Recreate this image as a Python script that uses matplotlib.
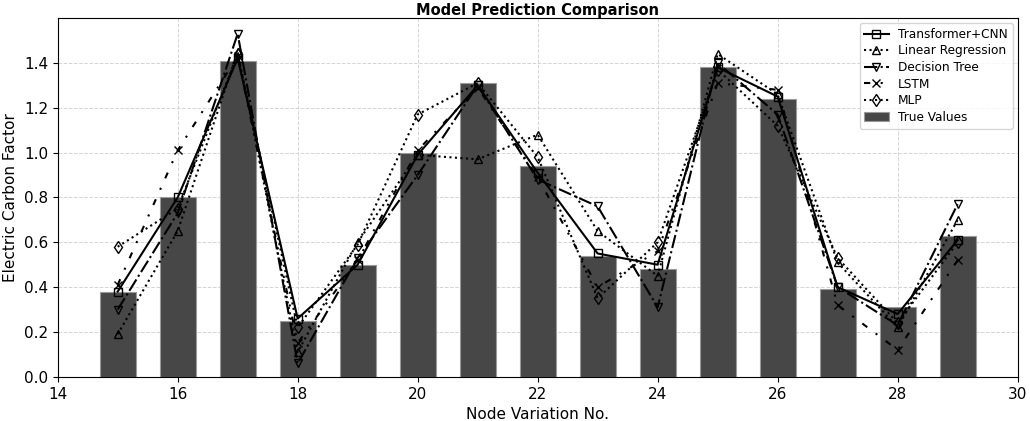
import matplotlib
matplotlib.use("Agg")
import matplotlib.pyplot as plt

nodes = [15, 16, 17, 18, 19, 20, 21, 22, 23, 24, 25, 26, 27, 28, 29]
true_values = [0.38, 0.80, 1.41, 0.25, 0.50, 1.00, 1.31, 0.94, 0.54, 0.48, 1.38, 1.24, 0.39, 0.31, 0.63]
transformer_cnn = [0.38, 0.80, 1.42, 0.26, 0.50, 0.99, 1.30, 0.91, 0.55, 0.50, 1.38, 1.25, 0.40, 0.28, 0.61]
linear_reg = [0.19, 0.65, 1.45, 0.11, 0.60, 0.99, 0.97, 1.08, 0.65, 0.45, 1.44, 1.26, 0.51, 0.22, 0.70]
decision_tree = [0.30, 0.73, 1.53, 0.06, 0.53, 0.90, 1.30, 0.88, 0.76, 0.31, 1.40, 1.17, 0.40, 0.23, 0.77]
lstm = [0.41, 1.01, 1.43, 0.15, 0.52, 1.01, 1.29, 0.89, 0.40, 0.56, 1.31, 1.28, 0.32, 0.12, 0.52]
mlp = [0.58, 0.75, 1.44, 0.22, 0.59, 1.17, 1.31, 0.98, 0.35, 0.60, 1.37, 1.12, 0.53, 0.24, 0.60]

fig, ax = plt.subplots(figsize=(10.3, 4.21), dpi=100)
fig.subplots_adjust(left=0.056, right=0.988, top=0.957, bottom=0.105)

ax.bar(nodes, true_values, width=0.6, color="#474747", edgecolor="#9a9a9a",
       linewidth=0.8, label="True Values", zorder=2)

kw = dict(color="black", markerfacecolor="none", markersize=6, linewidth=1.5, zorder=3)
ax.plot(nodes, transformer_cnn, linestyle="-", marker="s", label="Transformer+CNN", **kw)
ax.plot(nodes, linear_reg, linestyle=":", marker="^", label="Linear Regression", **kw)
ax.plot(nodes, decision_tree, linestyle="-.", marker="v", label="Decision Tree", **kw)
ax.plot(nodes, lstm, linestyle=(0, (3, 5, 1, 5)), marker="x", label="LSTM", **kw)
ax.plot(nodes, mlp, linestyle=":", marker="d", label="MLP", **kw)

ax.set_xlim(14, 30)
ax.set_ylim(0, 1.6)
ax.set_yticks([0.0, 0.2, 0.4, 0.6, 0.8, 1.0, 1.2, 1.4])
ax.tick_params(labelsize=11)
ax.set_xlabel("Node Variation No.", fontsize=11)
ax.set_ylabel("Electric Carbon Factor", fontsize=11)
ax.set_title("Model Prediction Comparison", fontsize=10.5, fontweight="bold", pad=2)
ax.grid(True, linestyle="--", color="#d5d5d5", linewidth=0.7, zorder=0)
ax.set_axisbelow(True)
ax.legend(loc="upper right", fontsize=8.7, labelspacing=0.3, borderaxespad=0.4)

plt.savefig("out.png")
